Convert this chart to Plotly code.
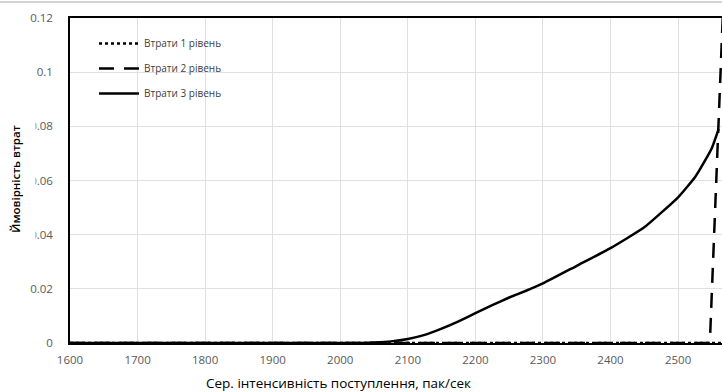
import plotly.graph_objects as go

# ---- data ----
x_level1 = [1600, 2565]
y_level1 = [0.0, 0.0]

x_level2 = [1600, 2547, 2570]
y_level2 = [0.0, 0.0, 0.145]

x_level3 = [1600, 1800, 2000, 2030, 2050, 2075, 2100, 2125, 2150, 2175, 2200, 2225, 2250,
            2275, 2300, 2350, 2400, 2450, 2500, 2525, 2540, 2550, 2560]
y_level3 = [0.0, 0.0, 0.0, 0.0, 0.0002, 0.0006, 0.0015, 0.003, 0.0053, 0.008, 0.011, 0.014, 0.0168,
            0.0193, 0.022, 0.0285, 0.035, 0.0427, 0.0538, 0.0612, 0.0674, 0.072, 0.079]

names = ["Втрати 1 рівень", "Втрати 2 рівень", "Втрати 3 рівень"]

x_ticks = [1600, 1700, 1800, 1900, 2000, 2100, 2200, 2300, 2400, 2500]
y_ticks = [0, 0.02, 0.04, 0.06, 0.08, 0.1, 0.12]
y_tick_text = ["0", "0.02", "0.04", "0.06", "0.08", "0.1", "0.12"]

x_title = "Сер. інтенсивність поступлення, пак/сек"
y_title = "Ймовірність втрат"

FONT = "Open Sans"
W, H = 722, 392
ML, MR, MT, MB = 70, 0, 18, 49

fig = go.Figure()
fig.add_trace(go.Scatter(x=x_level1, y=y_level1, name=names[0], mode="lines",
                         legendgroup="a",
                         line=dict(color="black", width=2.5, dash="3px,3px")))
fig.add_trace(go.Scatter(x=x_level2, y=y_level2, name=names[1], mode="lines",
                         legendgroup="b",
                         line=dict(color="black", width=2.5, dash="15px,10px")))
fig.add_trace(go.Scatter(x=x_level3, y=y_level3, name=names[2], mode="lines",
                         legendgroup="c",
                         line=dict(color="black", width=2.5, shape="spline", smoothing=0.4)))

pw = W - ML - MR
ph = H - MT - MB

fig.update_layout(
    width=W, height=H,
    margin=dict(l=ML, r=MR, t=MT, b=MB, pad=0),
    paper_bgcolor="white", plot_bgcolor="white",
    font=dict(family=FONT, color="#595959", size=10),
    showlegend=True,
    legend=dict(x=(94 - ML) / pw, y=1 - (29 - MT) / ph, xanchor="left", yanchor="top",
                bgcolor="rgba(0,0,0,0)", font=dict(size=10, color="#404040"),
                tracegroupgap=6, itemwidth=40),
    xaxis=dict(range=[1600, 2565], tickvals=x_ticks, showgrid=True, gridcolor="#e0e0e0",
               gridwidth=1, showline=True, linecolor="black", linewidth=1.5, mirror=True,
               zeroline=False, ticks="", tickfont=dict(size=11.5, color="#595959"),
               ticklabelstandoff=5),
    yaxis=dict(range=[0, 0.12], tickvals=y_ticks, ticktext=y_tick_text, showgrid=True,
               gridcolor="#e0e0e0", gridwidth=1, showline=True, linecolor="black",
               linewidth=1.5, mirror=False, zeroline=False, ticks="",
               tickfont=dict(size=11.5, color="#595959"), ticklabelstandoff=13),
    annotations=[
        dict(text=x_title, xref="paper", yref="paper", x=(338 - ML) / pw,
             y=-(383 - MT - ph) / ph, xanchor="center", yanchor="middle", showarrow=False,
             font=dict(family=FONT, size=13.5, color="black")),
        dict(text=y_title, xref="paper", yref="paper", x=(15 - ML) / pw,
             y=1 - (179 - MT) / ph, xanchor="center", yanchor="middle", showarrow=False,
             textangle=-90, bgcolor="white", width=140, height=38,
             font=dict(family=FONT, size=11.5, color="black", weight=600)),
    ],
    shapes=[
        dict(type="line", xref="paper", yref="paper", x0=-ML / pw, x1=1.0,
             y0=1 + (MT - 2) / ph, y1=1 + (MT - 2) / ph,
             line=dict(color="#d4d4d4", width=2)),
    ],
)

fig.write_html("out.html")
